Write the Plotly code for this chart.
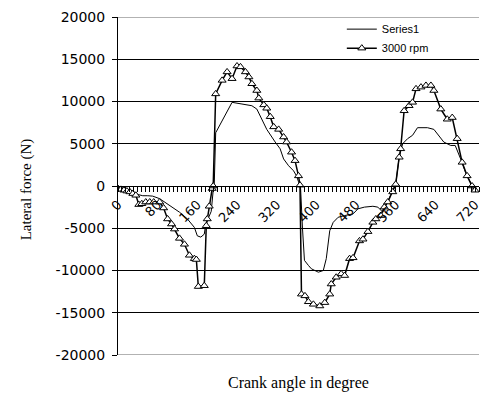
import plotly.graph_objects as go

# ---- data ----
rpm_angle = [0, 6, 12, 18, 24, 30, 36, 42, 48, 56, 64, 72, 84, 92, 100, 108, 114, 124, 134, 144,
             154, 158, 162, 174, 178, 180, 184, 190, 192, 197, 210, 220, 230, 240, 247, 257, 264,
             270, 280, 284, 294, 300, 307, 314, 324, 334, 340, 350, 357, 364, 367, 370, 377, 384,
             394, 407, 417, 427, 430, 440, 450, 457, 467, 474, 487, 494, 504, 514, 520, 530, 537,
             544, 554, 560, 567, 570, 577, 587, 594, 601, 611, 621, 631, 637, 651, 664, 674, 684,
             694, 704, 714, 720]
rpm_force = [-300, -400, -500, -600, -700, -900, -1100, -2200, -2100, -1900, -1900, -1900, -1900,
             -2600, -3900, -4500, -5100, -6200, -6900, -8200, -8600, -8700, -11900, -11800, -4700,
             -3900, -2400, -300, 0, 10900, 12500, 13500, 12700, 14200, 14100, 13500, 12900, 12100,
             11300, 10400, 9600, 9200, 8200, 7000, 6700, 5800, 5200, 4000, 3000, 1200, 100, -12800,
             -13000, -13700, -14000, -14200, -13800, -12800, -11600, -10800, -10400, -10600, -8600,
             -8500, -6500, -6300, -5400, -4300, -3900, -3500, -2500, -1900, -700, 200, 3400, 4400,
             8900, 9500, 9900, 11500, 11700, 11900, 11900, 11300, 9100, 7900, 8100, 5600, 2800, 1200,
             0, -500]

s1_angle = [0, 6, 12, 18, 30, 38, 44, 50, 60, 70, 84, 94, 107, 124, 140, 154, 160, 167, 174, 177,
            180, 188, 192, 194, 197, 230, 250, 270, 280, 290, 300, 317, 327, 334, 344, 354, 360, 364,
            368, 372, 376, 384, 390, 404, 414, 420, 424, 427, 434, 444, 457, 474, 484, 497, 514, 524,
            534, 544, 554, 560, 567, 574, 584, 594, 604, 624, 637, 647, 657, 671, 680, 691, 701, 711,
            717]
s1_force = [-300, -400, -600, -700, -900, -1000, -1100, -1150, -1150, -1200, -1500, -1900, -2500,
            -3100, -3900, -4900, -5900, -6050, -5700, -4500, -4100, -3000, -500, 0, 6300, 9900, 9700,
            9500, 9100, 7900, 6700, 5200, 4400, 3200, 2400, 1800, 1200, 500, 0, -5000, -8800, -9400,
            -9800, -10200, -10000, -8600, -7000, -5300, -4300, -3700, -3500, -3300, -2700, -2500,
            -2400, -2500, -3100, -1900, -700, 200, 3400, 5000, 5600, 6000, 6900, 6900, 6700, 6000,
            5200, 4800, 4800, 3200, 1600, 400, -400]

x_label_vals = [0, 80, 160, 240, 320, 400, 480, 560, 640, 720]
y_tick_vals = [-20000, -15000, -10000, -5000, 0, 5000, 10000, 15000, 20000]
y_tick_text = ["-20000", "-15000", "-10000", "-5000", "0", "5000", "10000", "15000", "20000"]

fig = go.Figure()
fig.add_trace(go.Scatter(x=s1_angle, y=s1_force, mode="lines", name="Series1",
                         line=dict(color="black", width=1)))
fig.add_trace(go.Scatter(x=rpm_angle, y=rpm_force, mode="lines+markers", name="3000 rpm",
                         line=dict(color="black", width=1.5),
                         marker=dict(symbol="triangle-up", size=7, color="white",
                                     line=dict(color="black", width=1))))

fig.update_layout(
    width=482, height=395,
    margin=dict(l=118, r=0, t=17, b=40),
    paper_bgcolor="white", plot_bgcolor="white",
    showlegend=True,
    legend=dict(x=0.62, y=1.007, xanchor="left", yanchor="top",
                bgcolor="rgba(0,0,0,0)", font=dict(family="Liberation Sans", size=11, color="black"),
                tracegroupgap=0, itemwidth=30),
    xaxis=dict(range=[0, 728], anchor="free", position=0.5,
               showline=True, linecolor="black", linewidth=1,
               tickvals=x_label_vals, ticks="outside", ticklen=5, tickcolor="black",
               tickangle=-45, showgrid=False, zeroline=False, ticklabeloverflow="allow",
               tickfont=dict(family="DejaVu Sans", size=13, color="black"),
               minor=dict(dtick=8, tick0=0, ticks="outside", ticklen=5, tickcolor="black",
                          showgrid=False)),
    yaxis=dict(range=[-20000, 20000], tickvals=y_tick_vals, ticktext=y_tick_text,
               showline=True, linecolor="black", linewidth=1,
               ticks="outside", ticklen=5, tickcolor="black",
               showgrid=True, gridcolor="black", gridwidth=1, zeroline=False,
               tickfont=dict(family="DejaVu Sans", size=14, color="black"),
               ticklabelstandoff=4),
)

fig.add_shape(type="line", xref="paper", yref="y", x0=0, x1=1, y0=20000, y1=20000,
              line=dict(color="#999999", width=1.5), layer="above")
fig.add_shape(type="line", xref="paper", yref="y", x0=0, x1=1, y0=-20000, y1=-20000,
              line=dict(color="#999999", width=1.5), layer="above")

fig.add_annotation(text="Lateral force (N)", xref="paper", yref="paper", x=-0.255, y=0.49,
                   textangle=-90, showarrow=False, xanchor="center", yanchor="middle",
                   font=dict(family="Liberation Serif", size=15, color="black"))
fig.add_annotation(text="Crank angle in degree", xref="paper", yref="paper", x=0.5, y=-0.082,
                   showarrow=False, xanchor="center", yanchor="middle",
                   font=dict(family="Liberation Serif", size=16, color="black"))

fig.write_html("out.html")
